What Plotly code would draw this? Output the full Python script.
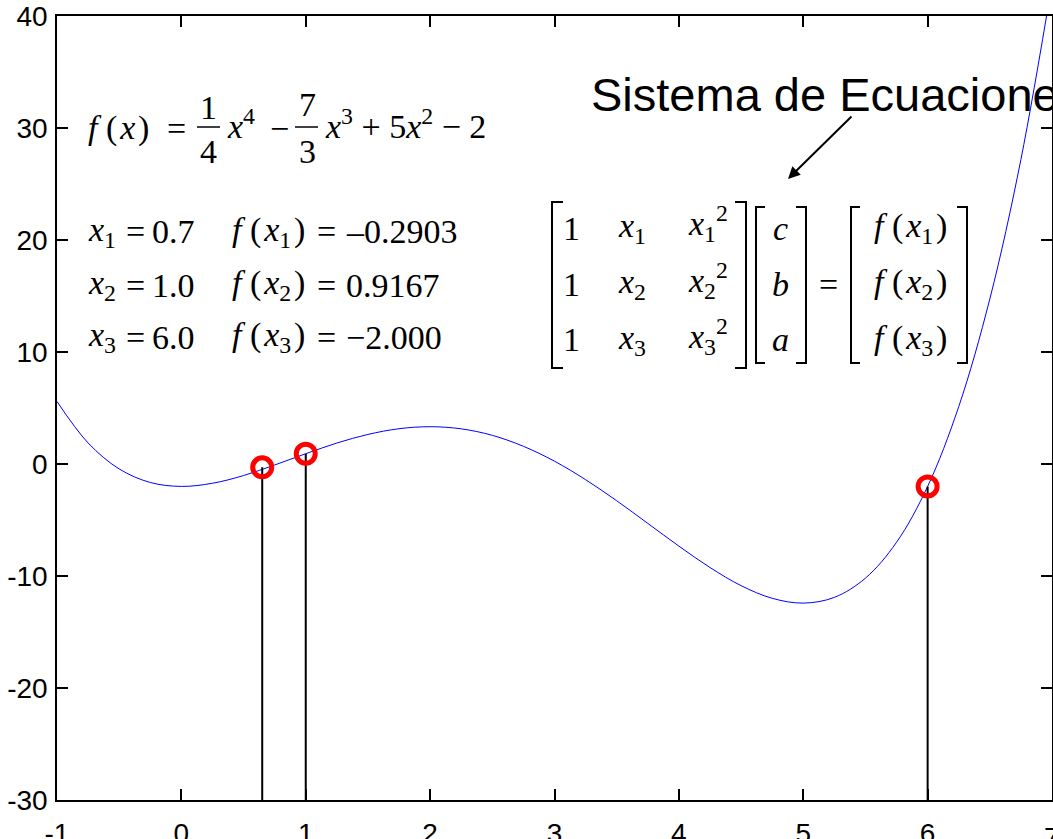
import plotly.graph_objects as go

# curve f(x) (step 0.25)
curve_x = [-1, -0.75, -0.5, -0.25, 0, 0.25, 0.5, 0.75, 1, 1.25, 1.5, 1.75, 2,
           2.25, 2.5, 2.75, 3, 3.25, 3.5, 3.75, 4, 4.25, 4.5, 4.75, 5,
           5.25, 5.5, 5.75, 6, 6.25, 6.5, 6.75, 7]
curve_y = [5.58, 1.88, -0.44, -1.65, -2.00, -1.72, -1.03, -0.09, 0.92, 1.87,
           2.64, 3.15, 3.33, 3.14, 2.56, 1.58, 0.25, -1.40, -3.28, -5.30,
           -7.33, -9.24, -10.86, -11.99, -12.42, -11.91, -10.19, -6.99,
           -2.00, 5.12, 14.73, 27.19, 42.9]

# the three chosen points
pts_x = [0.65, 1.0, 6.0]
pts_y = [-0.3, 0.92, -2.0]

x_ticks = [-1, 0, 1, 2, 3, 4, 5, 6, 7]
y_ticks = [-30, -20, -10, 0, 10, 20, 30, 40]

row_x = ["0.7", "1.0", "6.0"]
row_f = ["\u20130.2903", "0.9167", "\u22122.000"]

W, H = 1053, 839
L, T, R, B = 57, 16, 1052, 800   # plot box in pixels
SERIF = "Liberation Serif, Times New Roman, serif"
SANS = "Liberation Sans, Arial, sans-serif"
FS = 34
HS = "\u200a"


def px(x):
    return (x - L) / (R - L)


def py(y):
    return (B - y) / (B - T)


fig = go.Figure()

fig.add_trace(go.Scatter(x=curve_x, y=curve_y, mode="lines",
                         line=dict(color="#0000ff", width=1, shape="spline"),
                         hoverinfo="skip"))

stem_x, stem_y = [], []
for xv, yv in zip(pts_x, pts_y):
    stem_x += [xv, xv, None]
    stem_y += [yv, y_ticks[0], None]
fig.add_trace(go.Scatter(x=stem_x, y=stem_y, mode="lines",
                         line=dict(color="black", width=2)))

fig.add_trace(go.Scatter(x=pts_x, y=pts_y, mode="markers",
                         marker=dict(symbol="circle-open", size=19, color="#ff0000",
                                     line=dict(color="#ff0000", width=5))))

ann = []
shapes = []


def txt(s, x, y, anchor="left", size=FS, font=SERIF):
    ann.append(dict(text=s, x=px(x), y=py(y), xref="paper", yref="paper",
                    xanchor=anchor, yanchor="middle", showarrow=False,
                    font=dict(family=font, size=size, color="black")))


def hline(x0, x1, y, w=1.5):
    shapes.append(dict(type="line", xref="paper", yref="paper",
                       x0=px(x0), x1=px(x1), y0=py(y), y1=py(y),
                       line=dict(color="black", width=w)))


def bracket(x, y0, y1, serif):
    shapes.append(dict(type="path", xref="paper", yref="paper",
                       path=f"M {px(x + serif)} {py(y0)} L {px(x)} {py(y0)} "
                            f"L {px(x)} {py(y1)} L {px(x + serif)} {py(y1)}",
                       line=dict(color="black", width=2)))


# f(x) line
txt(f"<i>f</i> ({HS}<i>x</i>{HS})", 86, 128)
txt("=", 176, 128, "center")
txt("1", 208, 108, "center")
hline(197, 220, 127)
txt("4", 208, 151, "center")
txt("<i>x</i><sup>4</sup>", 225, 124)
txt("\u2212", 279, 128, "center")
txt("7", 307, 104, "center")
hline(295, 318, 127)
txt("3", 307, 151, "center")
txt("<i>x</i><sup>3</sup> + 5<i>x</i><sup>2</sup> \u2212 2", 323, 124)

# x_i / f(x_i) rows
for i, yv in enumerate([232, 285, 337]):
    k = i + 1
    txt(f"<i>x</i><sub>{k}</sub>", 86, yv)
    txt("=", 135, yv, "center")
    txt(row_x[i], 150, yv)
    txt(f"<i>f</i> ({HS}<i>x</i><sub>{k}</sub>{HS})", 230, yv)
    txt("=", 326, yv, "center")
    txt(row_f[i], 344, yv)

# matrix system
for i, yv in enumerate([228, 284, 340]):
    k = i + 1
    txt("1", 571, yv, "center")
    txt(f"<i>x</i><sub>{k}</sub>", 632, yv, "center")
    txt(f"<i>x</i><sub>{k}</sub><sup>2</sup>", 708, yv - 4, "center")
    txt(["<i>c</i>", "<i>b</i>", "<i>a</i>"][i], 780, yv, "center")
    txt(f"<i>f</i> ({HS}<i>x</i><sub>{k}</sub>{HS})", 910, yv, "center")
txt("=", 828, 284, "center")

bracket(552, 202, 368, 11)
bracket(746, 202, 368, -11)
bracket(756, 207, 363, 9)
bracket(806, 207, 363, -10)
bracket(851, 207, 363, 9)
bracket(967, 207, 363, -10)

# label with arrow
txt("Sistema de Ecuaciones", 589, 94, size=47, font=SANS)
ann.append(dict(x=px(788), y=py(179), xref="paper", yref="paper",
                ax=65, ay=-64, text="", showarrow=True, arrowhead=2,
                arrowsize=1.2, arrowwidth=2, arrowcolor="black"))

# last x tick label sits half outside the page, plotly drops it -> add by hand
ann.append(dict(text=str(x_ticks[-1]), x=x_ticks[-1], y=0, xref="x", yref="paper",
                xanchor="center", yanchor="top", yshift=-20, showarrow=False,
                font=dict(family=SANS, size=28, color="black")))

axis_common = dict(showgrid=False, zeroline=False, showline=True, automargin=False,
                   linecolor="black", linewidth=1.5, mirror="allticks",
                   ticks="inside", ticklen=11, tickwidth=1.5, tickcolor="black",
                   tickfont=dict(family=SANS, size=28, color="black"))

fig.update_layout(
    width=W, height=H,
    margin=dict(l=L, r=W - R, t=T, b=H - B),
    paper_bgcolor="white", plot_bgcolor="white",
    showlegend=False,
    xaxis=dict(range=[x_ticks[0], x_ticks[-1]], tickvals=x_ticks,
               ticktext=[str(v) for v in x_ticks], ticklabelstandoff=8,
               **axis_common),
    yaxis=dict(range=[y_ticks[0], y_ticks[-1]], tickvals=y_ticks,
               ticktext=[str(v) for v in y_ticks], ticklabelstandoff=2,
               **axis_common),
    annotations=ann,
    shapes=shapes,
)

# drop the page's default body margin so the figure fills the window
fig.write_html("out.html", config={"displayModeBar": False},
               post_script="document.body.style.margin='0';"
                           "document.body.style.overflow='hidden';")
